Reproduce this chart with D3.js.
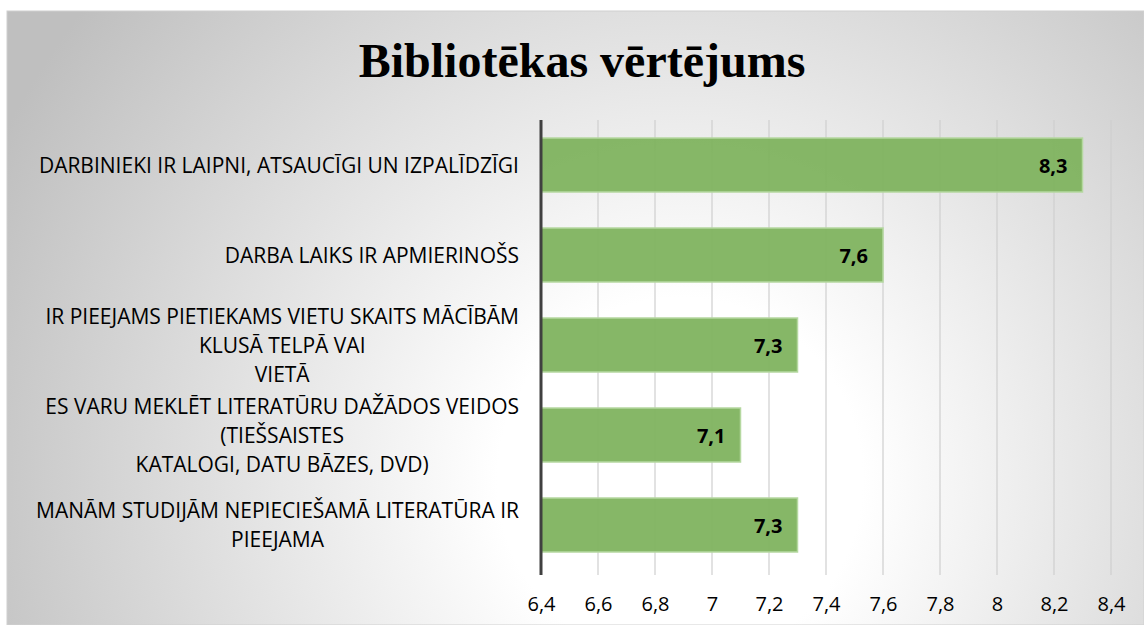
<!DOCTYPE html>
<html><head><meta charset="utf-8">
<script src="https://cdn.jsdelivr.net/npm/d3@7"></script>
<style>html,body{margin:0;padding:0;background:#fff;}svg{display:block;}</style>
</head><body>
<script>
const title = "Bibliotēkas vērtējums";
const categories = [
  ["DARBINIEKI IR LAIPNI, ATSAUCĪGI UN IZPALĪDZĪGI"],
  ["DARBA LAIKS IR APMIERINOŠS"],
  ["IR PIEEJAMS PIETIEKAMS VIETU SKAITS MĀCĪBĀM", "KLUSĀ TELPĀ VAI", "VIETĀ"],
  ["ES VARU MEKLĒT LITERATŪRU DAŽĀDOS VEIDOS", "(TIEŠSAISTES", "KATALOGI, DATU BĀZES, DVD)"],
  ["MANĀM STUDIJĀM NEPIECIEŠAMĀ LITERATŪRA IR", "PIEEJAMA"]
];
const values = [8.3, 7.6, 7.3, 7.1, 7.3];
const tickValues = [6.4, 6.6, 6.8, 7, 7.2, 7.4, 7.6, 7.8, 8, 8.2, 8.4];

const W = 1144, H = 625;
const svg = d3.select("body").append("svg").attr("width", W).attr("height", H);
const defs = svg.append("defs");
const grad = defs.append("radialGradient").attr("id", "bg")
  .attr("gradientUnits", "userSpaceOnUse")
  .attr("cx", 680).attr("cy", 480).attr("r", 760);
grad.append("stop").attr("offset", "0%").attr("stop-color", "#ffffff");
grad.append("stop").attr("offset", "24%").attr("stop-color", "#ffffff");
grad.append("stop").attr("offset", "100%").attr("stop-color", "#bfbfbf");

svg.append("rect").attr("x", 7).attr("y", 11).attr("width", W - 7).attr("height", H - 11)
  .attr("fill", "url(#bg)").attr("stroke", "#d0d0d0").attr("stroke-width", 1);

svg.append("text").attr("x", 582).attr("y", 77).attr("text-anchor", "middle")
  .attr("font-family", "'Liberation Serif', 'Times New Roman', serif")
  .attr("font-weight", "bold").attr("font-size", 48).attr("fill", "#000").text(title);

const x = d3.scaleLinear().domain([6.4, 8.4]).range([541, 1111]);
const y = d3.scaleBand().domain(d3.range(categories.length)).range([120, 570]).paddingInner(0.4).paddingOuter(0.2);

// gridlines
svg.append("g").selectAll("line").data(tickValues.slice(1)).join("line")
  .attr("x1", d => x(d)).attr("x2", d => x(d)).attr("y1", 120).attr("y2", 575)
  .attr("stroke", "#cfcfcf").attr("stroke-width", 1.2);

// bars
svg.append("g").selectAll("rect").data(values).join("rect")
  .attr("x", x(6.4)).attr("y", (d, i) => y(i))
  .attr("width", d => x(d) - x(6.4)).attr("height", y.bandwidth())
  .attr("fill", "#7fb35f").attr("fill-opacity", 0.95)
  .attr("stroke", "#b5d8a0").attr("stroke-width", 1.5);

// value labels
svg.append("g").selectAll("text").data(values).join("text")
  .attr("x", d => x(d) - 15).attr("y", (d, i) => y(i) + y.bandwidth() / 2 + 7.5)
  .attr("text-anchor", "end").attr("font-family", "'Open Sans', 'Noto Sans', sans-serif")
  .attr("font-weight", "bold").attr("font-size", 20).attr("fill", "#000")
  .text(d => String(d).replace(".", ","));

// left axis line
svg.append("line").attr("x1", x(6.4)).attr("x2", x(6.4)).attr("y1", 120).attr("y2", 575)
  .attr("stroke", "#404040").attr("stroke-width", 3);

// x axis tick labels
const xAxis = d3.axisBottom(x).tickValues(tickValues).tickSize(0).tickPadding(0)
  .tickFormat(d => String(+d.toFixed(1)).replace(".", ","));
const gx = svg.append("g").attr("transform", "translate(0,597)").call(xAxis);
gx.select(".domain").remove();
gx.selectAll("text").attr("font-family", "'Open Sans', 'Noto Sans', sans-serif")
  .attr("font-size", 20).attr("fill", "#000");

// category labels
const lineH = 29;
const catG = svg.append("g").attr("font-family", "'Open Sans', 'Noto Sans', sans-serif")
  .attr("font-size", 21).attr("fill", "#000");
categories.forEach((lines, i) => {
  const g = catG.append("g");
  const cy = y(i) + y.bandwidth() / 2;
  const t0 = cy - (lines.length - 1) * lineH / 2;
  const texts = lines.map((l, j) => g.append("text").attr("y", t0 + j * lineH + 7.5).text(l));
  const widths = texts.map(t => t.node().getComputedTextLength());
  const maxW = d3.max(widths);
  const right = 519;
  texts.forEach(t => t.attr("x", right - maxW / 2).attr("text-anchor", "middle"));
});
</script>
</body></html>
